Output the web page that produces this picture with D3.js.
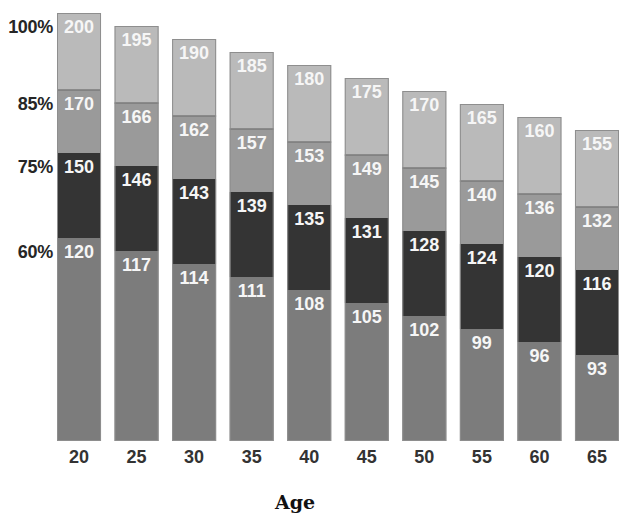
<!DOCTYPE html>
<html>
<head>
<meta charset="utf-8">
<script src="https://cdn.jsdelivr.net/npm/d3@7"></script>
<style>
  html, body { margin: 0; padding: 0; background: #fff; }
  svg { display: block; }
</style>
</head>
<body>
<svg id="chart" width="623" height="523"></svg>
<script>
// ---- data ----
const ages   = [20, 25, 30, 35, 40, 45, 50, 55, 60, 65];
const maxHR  = [200, 195, 190, 185, 180, 175, 170, 165, 160, 155];
const hr85   = [170, 166, 162, 157, 153, 149, 145, 140, 136, 132];
const hr75   = [150, 146, 143, 139, 135, 131, 128, 124, 120, 116];
const hr60   = [120, 117, 114, 111, 108, 105, 102, 99, 96, 93];
const zoneLabels = ["100%", "85%", "75%", "60%"];
const xTitle = "Age";

// ---- layout ----
const svg = d3.select("#chart");
const baseline = 441;

const x = d3.scaleBand().domain(ages).range([57, 619]).paddingInner(0.235).paddingOuter(0);

// top of each bar follows its maximum heart rate
const yTop = d3.scaleLinear().domain([200, 155]).range([13, 130]);
// zone template (pixel offsets below the bar top) used by each bar's own scale
const zoneRange = [225, 140, 77, 0];

const bars = ages.map((a, i) => {
  const top = yTop(maxHR[i]);
  const y = d3.scaleLinear()
    .domain([hr60[i], hr75[i], hr85[i], maxHR[i]])
    .range(zoneRange.map(o => top + o));
  return { age: a, i, y, vals: [hr60[i], hr75[i], hr85[i], maxHR[i]] };
});

const segColors = ["#7c7c7c", "#343434", "#9a9a9a", "#bababa"];

const g = svg.append("g");

bars.forEach(b => {
  const bx = x(b.age), bw = x.bandwidth();
  const bounds = [baseline, b.y(b.vals[0]), b.y(b.vals[1]), b.y(b.vals[2]), b.y(b.vals[3])];
  // segments
  for (let k = 0; k < 4; k++) {
    g.append("rect")
      .attr("x", bx).attr("width", bw)
      .attr("y", bounds[k + 1]).attr("height", bounds[k] - bounds[k + 1])
      .attr("fill", segColors[k]);
  }
  // boundary line between the two upper zones
  g.append("line").attr("x1", bx).attr("x2", bx + bw).attr("y1", bounds[3]).attr("y2", bounds[3])
    .attr("stroke", "#7a7a7a").attr("stroke-width", 1.5);
  // outline
  g.append("rect")
    .attr("x", bx + 0.5).attr("width", bw - 1)
    .attr("y", bounds[4] + 0.5).attr("height", baseline - bounds[4] - 1)
    .attr("fill", "none").attr("stroke", "#8e8e8e").attr("stroke-width", 1);
  // labels
  for (let k = 0; k < 4; k++) {
    g.append("text")
      .attr("x", bx + bw / 2)
      .attr("y", bounds[k + 1] + 14)
      .attr("text-anchor", "middle")
      .attr("dominant-baseline", "central")
      .attr("font-family", "'Liberation Sans', Arial, sans-serif")
      .attr("font-weight", "bold")
      .attr("font-size", 18)
      .attr("fill", "#f6f6f6")
      .text(b.vals[k]);
  }
});

// y-axis zone labels aligned with first bar
const first = bars[0];
const zoneVals = [first.vals[3], first.vals[2], first.vals[1], first.vals[0]];
zoneLabels.forEach((lab, k) => {
  svg.append("text")
    .attr("x", 53)
    .attr("y", first.y(zoneVals[k]) + 14)
    .attr("text-anchor", "end")
    .attr("dominant-baseline", "central")
    .attr("font-family", "'Liberation Sans', Arial, sans-serif")
    .attr("font-weight", "bold")
    .attr("font-size", 18)
    .attr("letter-spacing", -0.3)
    .attr("fill", "#262626")
    .text(lab);
});

// x axis
const xAxis = svg.append("g")
  .attr("transform", `translate(0,${baseline})`)
  .call(d3.axisBottom(x).tickSize(0).tickPadding(9));
xAxis.select(".domain").remove();
xAxis.selectAll("text")
  .attr("font-family", "'Liberation Sans', Arial, sans-serif")
  .attr("font-weight", "bold")
  .attr("font-size", 18)
  .attr("fill", "#333");

svg.append("text")
  .attr("x", 295).attr("y", 509)
  .attr("text-anchor", "middle")
  .attr("font-family", "'DejaVu Serif', serif")
  .attr("font-weight", "bold")
  .attr("font-size", 19)
  .attr("fill", "#111")
  .text(xTitle);
</script>
</body>
</html>
